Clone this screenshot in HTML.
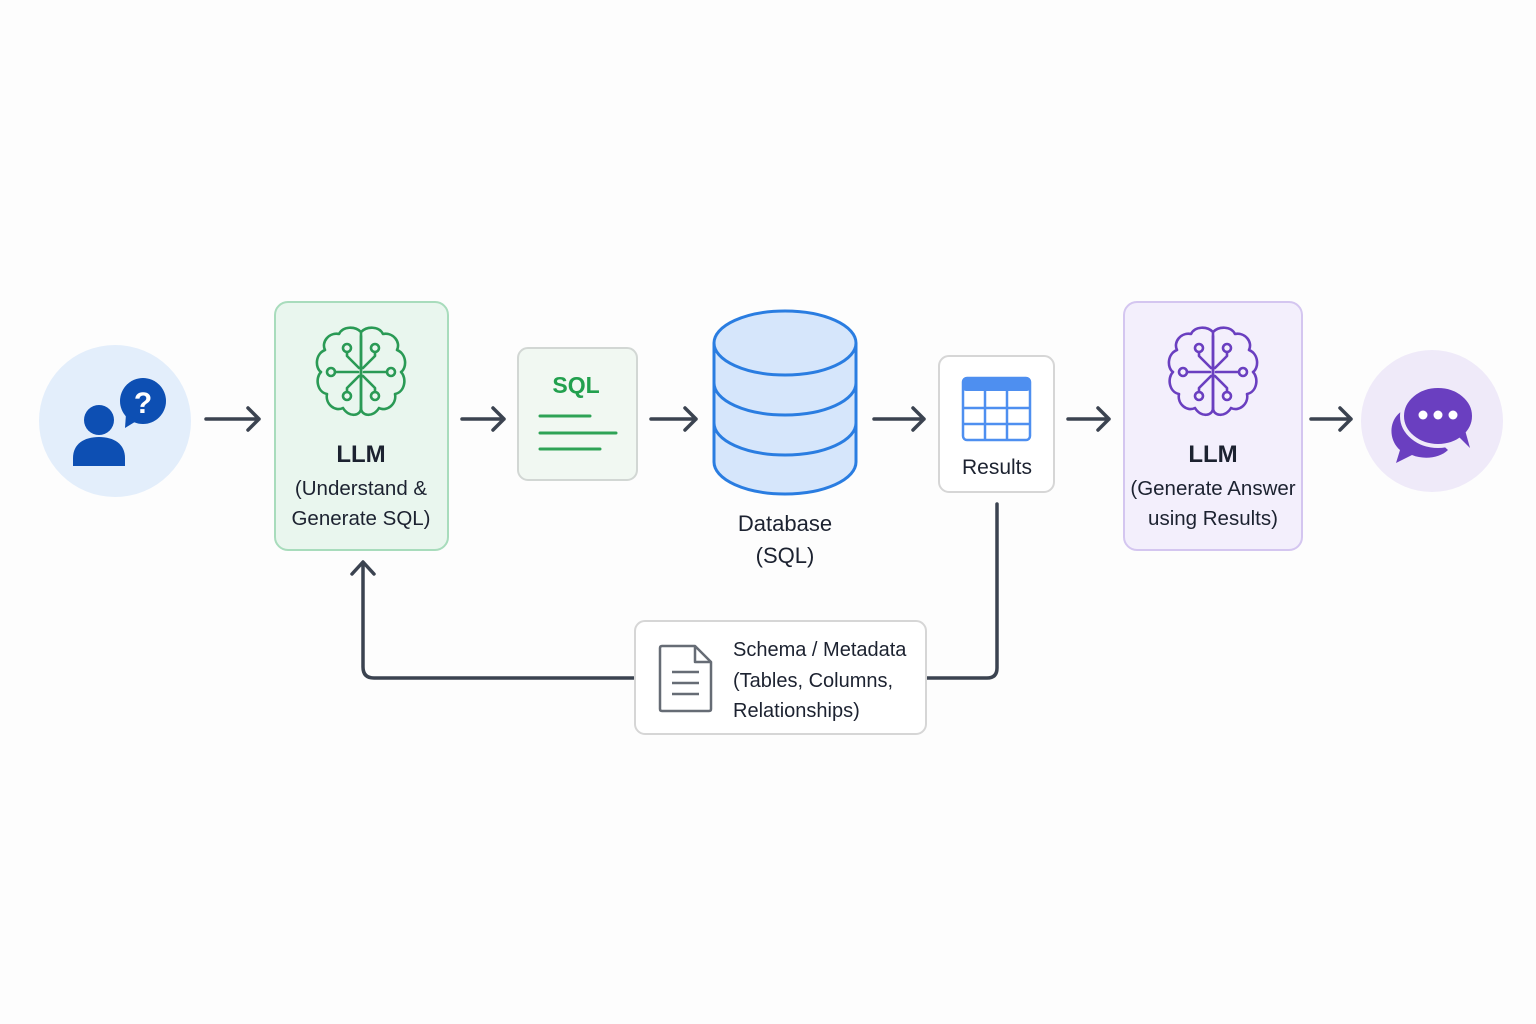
<!DOCTYPE html>
<html><head><meta charset="utf-8"><style>
html,body{margin:0;padding:0;background:#fdfdfd;}
svg{display:block;font-family:"Liberation Sans",sans-serif;}
</style></head><body>
<svg width="1536" height="1024" viewBox="0 0 1536 1024" xmlns="http://www.w3.org/2000/svg">
<defs>
<g id="brain" fill="none" stroke-width="2.6" stroke-linecap="round" stroke-linejoin="round">
 <path d="M0,-40 C-6,-46 -18,-46 -22,-38 C-32,-40 -40,-30 -36,-22 C-46,-18 -46,-4 -40,0 C-46,6 -44,20 -34,22 C-36,32 -26,40 -18,36 C-12,46 0,44 0,36 Z"/>
 <path d="M0,-40 C6,-46 18,-46 22,-38 C32,-40 40,-30 36,-22 C46,-18 46,-4 40,0 C46,6 44,20 34,22 C36,32 26,40 18,36 C12,46 0,44 0,36"/>
 <path d="M0,-36 V36 M-3,0 H-26 M3,0 H26 M-2,-4 L-14,-16 V-20 M2,-4 L14,-16 V-20 M-2,4 L-14,16 V20 M2,4 L14,16 V20"/>
 <circle cx="-14" cy="-24" r="4"/><circle cx="14" cy="-24" r="4"/><circle cx="-30" cy="0" r="4"/><circle cx="30" cy="0" r="4"/><circle cx="-14" cy="24" r="4"/><circle cx="14" cy="24" r="4"/>
</g>
</defs>

<!-- arrows -->
<g fill="none" stroke="#3b4350" stroke-width="3.5" stroke-linecap="round" stroke-linejoin="round">
 <path d="M206,419 H259 M248,408 L259,419 L248,430"/>
 <path d="M462,419 H504 M493,408 L504,419 L493,430"/>
 <path d="M651,419 H696 M685,408 L696,419 L685,430"/>
 <path d="M874,419 H924 M913,408 L924,419 L913,430"/>
 <path d="M1068,419 H1109 M1098,408 L1109,419 L1098,430"/>
 <path d="M1311,419 H1351 M1340,408 L1351,419 L1340,430"/>
</g>

<!-- user circle -->
<circle cx="115" cy="421" r="76" fill="#e3eefb"/>
<circle cx="99" cy="420" r="15" fill="#0d4fb3"/>
<path d="M73,466 V458 C73,444 84,437 99,437 C114,437 125,444 125,458 V466 Z" fill="#0d4fb3"/>
<circle cx="143" cy="401" r="23" fill="#0d4fb3"/>
<path d="M126,414 L125,428 L138,420 Z" fill="#0d4fb3"/>
<text x="143" y="413" font-size="30" font-weight="bold" fill="#fff" text-anchor="middle">?</text>

<!-- LLM 1 -->
<rect x="275" y="302" width="173" height="248" rx="13" fill="#e9f6ee" stroke="#a8dcbc" stroke-width="2"/>
<use href="#brain" x="361" y="372" stroke="#2a9a55"/>
<text x="361" y="462" font-size="24" font-weight="bold" fill="#1c2230" text-anchor="middle">LLM</text>
<text x="361" y="495" font-size="20.5" fill="#1c2230" text-anchor="middle">(Understand &amp;</text>
<text x="361" y="525" font-size="20.5" fill="#1c2230" text-anchor="middle">Generate SQL)</text>

<!-- SQL -->
<rect x="518" y="348" width="119" height="132" rx="10" fill="#f1f8f2" stroke="#d2d7d4" stroke-width="2"/>
<text x="576" y="393" font-size="23" font-weight="bold" fill="#22a04e" text-anchor="middle">SQL</text>
<g stroke="#2ea356" stroke-width="3" stroke-linecap="round">
<line x1="540" y1="416" x2="590" y2="416"/><line x1="540" y1="433" x2="616" y2="433"/><line x1="540" y1="449" x2="600" y2="449"/>
</g>

<!-- Database -->
<g fill="#d6e6fb" stroke="#2a7de1" stroke-width="3">
<path d="M714,343 V462 A71,32 0 0 0 856,462 V343"/>
<path d="M714,383 A71,32 0 0 0 856,383" fill="none"/>
<path d="M714,423 A71,32 0 0 0 856,423" fill="none"/>
<ellipse cx="785" cy="343" rx="71" ry="32"/>
</g>
<text x="785" y="531" font-size="22" fill="#1c2230" text-anchor="middle">Database</text>
<text x="785" y="563" font-size="22" fill="#1c2230" text-anchor="middle">(SQL)</text>

<!-- Results -->
<rect x="939" y="356" width="115" height="136" rx="10" fill="#fff" stroke="#d6d6d6" stroke-width="2"/>
<rect x="963" y="378" width="67" height="62" rx="4" fill="#fff" stroke="#4e8ff0" stroke-width="2.5"/>
<rect x="963" y="378" width="67" height="13" rx="3" fill="#4e8ff0"/>
<g stroke="#4e8ff0" stroke-width="2.5"><line x1="963" y1="408" x2="1030" y2="408"/><line x1="963" y1="424" x2="1030" y2="424"/><line x1="985" y1="390" x2="985" y2="440"/><line x1="1007" y1="390" x2="1007" y2="440"/></g>
<text x="997" y="474" font-size="21" fill="#1c2230" text-anchor="middle">Results</text>

<!-- LLM 2 -->
<rect x="1124" y="302" width="178" height="248" rx="13" fill="#f3effc" stroke="#d4c6f0" stroke-width="2"/>
<use href="#brain" x="1213" y="372" stroke="#6a3fc0"/>
<text x="1213" y="462" font-size="24" font-weight="bold" fill="#1c2230" text-anchor="middle">LLM</text>
<text x="1213" y="495" font-size="20.5" fill="#1c2230" text-anchor="middle">(Generate Answer</text>
<text x="1213" y="525" font-size="20.5" fill="#1c2230" text-anchor="middle">using Results)</text>

<!-- chat circle -->
<circle cx="1432" cy="421" r="71" fill="#efeaf9"/>
<path d="M1404,410 C1388,418 1388,440 1400,450 L1396,463 L1412,455 C1424,460 1440,458 1448,450 Z" fill="#6a3fc0"/>
<ellipse cx="1438" cy="416" rx="36" ry="30" fill="#6a3fc0" stroke="#efeaf9" stroke-width="4"/>
<path d="M1458,436 L1470,448 L1465,430 Z" fill="#6a3fc0"/>
<g fill="#fff"><circle cx="1423" cy="415" r="4.5"/><circle cx="1438" cy="415" r="4.5"/><circle cx="1453" cy="415" r="4.5"/></g>

<!-- feedback -->
<path d="M997,504 V668 Q997,678 987,678 H927 M635,678 H374 Q363,678 363,667 V563 M352,574 L363,562 L374,574" fill="none" stroke="#3b4350" stroke-width="3.5" stroke-linecap="round" stroke-linejoin="round"/>
<rect x="635" y="621" width="291" height="113" rx="10" fill="#fff" stroke="#d6d6d6" stroke-width="2"/>
<path d="M662,646 H695 L711,662 V709 Q711,711 709,711 H662 Q660,711 660,709 V648 Q660,646 662,646 Z M695,646 V662 H711" fill="none" stroke="#666c75" stroke-width="2.5" stroke-linejoin="round"/>
<g stroke="#666c75" stroke-width="2.5"><line x1="672" y1="672" x2="699" y2="672"/><line x1="672" y1="683" x2="699" y2="683"/><line x1="672" y1="694" x2="699" y2="694"/></g>
<text x="733" y="656" font-size="20" fill="#1c2230">Schema / Metadata</text>
<text x="733" y="687" font-size="20" fill="#1c2230">(Tables, Columns,</text>
<text x="733" y="717" font-size="20" fill="#1c2230">Relationships)</text>
</svg>
</body></html>
